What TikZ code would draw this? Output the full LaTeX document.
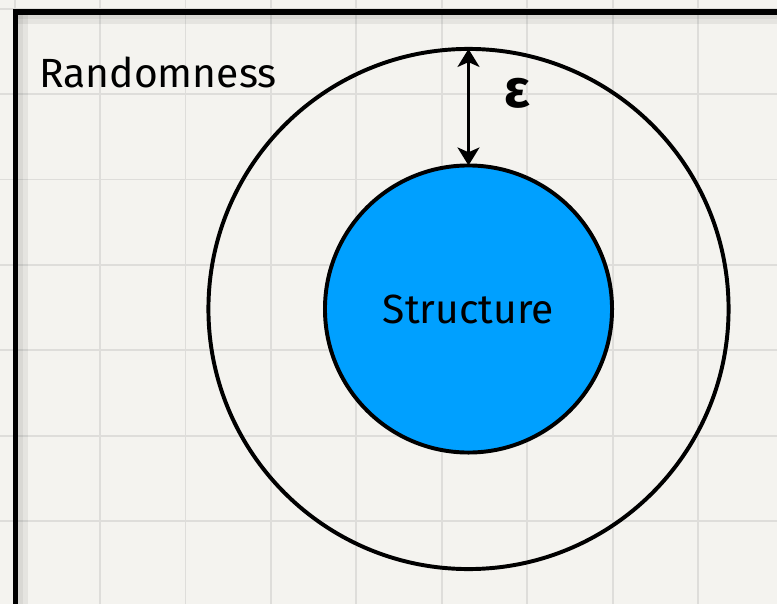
\documentclass[tikz,border=0pt]{standalone}
\usepackage{fontspec}
\setmainfont{Fira Sans}
\usetikzlibrary{arrows.meta}

\definecolor{paper}{HTML}{F4F3EF}
\definecolor{gridline}{HTML}{DEDDDA}
\definecolor{structblue}{HTML}{00A0FF}

\tikzset{
  ring/.style={circle, draw=black, line width=2.8pt, inner sep=0pt, outer sep=0pt},
  hand/.style={font=\fontsize{29}{31}\selectfont},
  gap/.style={{Stealth[length=0.45cm, width=0.55cm, inset=0.12cm]}-{Stealth[length=0.45cm, width=0.55cm, inset=0.12cm]}, line width=1.9pt},
}

\begin{document}
\begin{tikzpicture}[x=0.025cm, y=-0.025cm]

% Paper with its grid
\fill[paper] (0,0) rectangle (777,604);
\useasboundingbox (0,0) rectangle (777,604);
\clip (0,0) rectangle (777,604);
\foreach \k in {0,...,9}
  \draw[gridline, line width=1.3pt] (14.6+85.43*\k, 0) -- (14.6+85.43*\k, 604);
\foreach \k in {0,...,7}
  \draw[gridline, line width=1.3pt] (0, 8.6+85.43*\k) -- (777, 8.6+85.43*\k);

% Soft shadow under the frame
\fill[black, opacity=0.06] (18,14) rectangle (777,24);
\fill[black, opacity=0.06] (18,14) rectangle (28,604);
\fill[black, opacity=0.05] (18,14) rectangle (777,19);
\fill[black, opacity=0.05] (18,14) rectangle (23,604);

% Frame, open to the right and below
\draw[line width=4pt, line join=miter] (15.5,640) -- (15.5,11.7) -- (820,11.7);

% Randomness around the structure
\node[ring, minimum size=13cm] (outer) at (468.5,309) {};
\node[ring, fill=structblue, minimum size=7.175cm, hand] (inner) at (468.5,309) {Structure};
\node[hand] (randomness) at (158,72) {Randomness};

% Distance between the two
\draw[gap] (outer.north) -- (inner.north);
\node[font=\fontsize{38}{40}\selectfont\bfseries] (eps) at (517,93) {ε};

\end{tikzpicture}
\end{document}
